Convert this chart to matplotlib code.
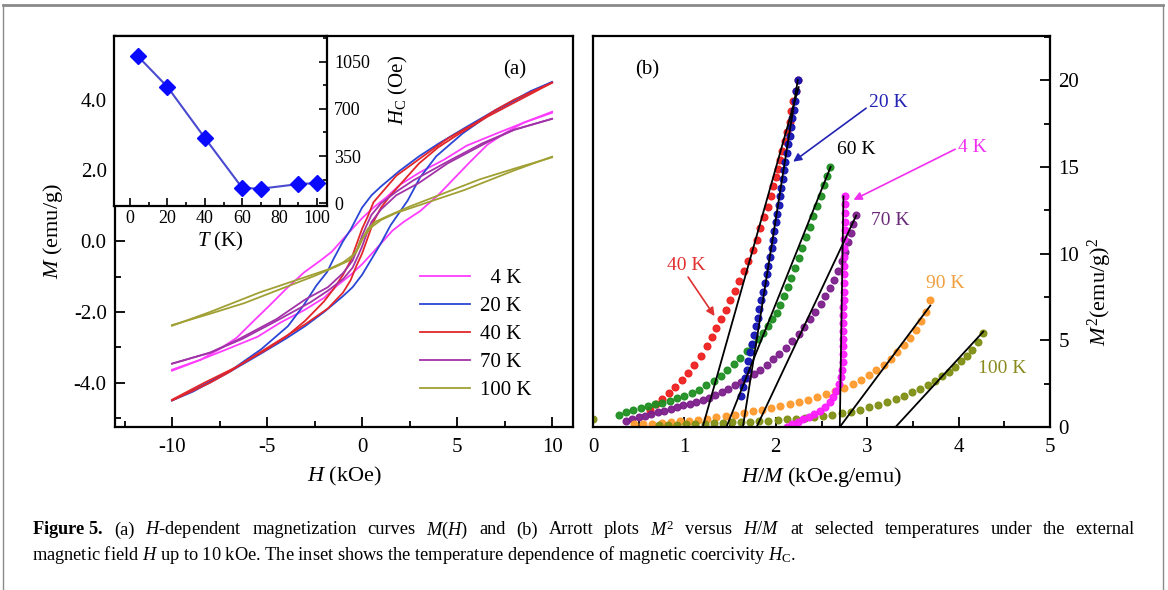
import matplotlib
matplotlib.use("Agg")
import matplotlib.pyplot as plt
from matplotlib.lines import Line2D
from matplotlib.ticker import MultipleLocator, FormatStrFormatter

plt.rcParams["font.family"] = ["Liberation Serif", "DejaVu Serif"]
plt.rcParams["mathtext.fontset"] = "custom"
plt.rcParams["mathtext.rm"] = "Liberation Serif"
plt.rcParams["mathtext.it"] = "Liberation Serif:italic"
plt.rcParams["mathtext.bf"] = "Liberation Serif:bold"
plt.rcParams["axes.unicode_minus"] = False

# ---- (a) M(H) loops: each loop as lower (ascending) and upper (descending) branch ----
H_4K_lo = [-10, -8.5, -7.1, -5.5, -4.3, -3.05, -2.0, -1.3, -0.6, 0, 0.6, 1.1, 1.6, 2.2, 3.05, 4.0, 4.8, 5.7, 6.6, 7.5, 8.5, 10]
M_4K_lo = [-3.63, -3.35, -3.05, -2.7, -2.3, -1.95, -1.6, -1.25, -0.95, -0.65, -0.3, 0.0, 0.3, 0.55, 0.85, 1.3, 1.75, 2.25, 2.73, 3.05, 3.35, 3.66]
H_4K_up = [-10, -8.5, -7.5, -6.6, -5.7, -4.8, -4.0, -3.05, -2.2, -1.6, -1.1, -0.6, 0, 0.6, 1.3, 2.0, 3.05, 4.3, 5.5, 7.1, 8.5, 10]
M_4K_up = [-3.66, -3.35, -3.05, -2.73, -2.25, -1.78, -1.35, -0.88, -0.55, -0.3, 0.0, 0.3, 0.65, 0.95, 1.25, 1.6, 1.95, 2.3, 2.7, 3.05, 3.35, 3.63]

H_20K_lo = [-10, -8.9, -7, -5.4, -4, -3, -2, -1, -0.5, 0, 0.5, 1, 1.5, 2.4, 3.05, 3.9, 5.3, 6.9, 8.3, 10]
M_20K_lo = [-4.5, -4.25, -3.7, -3.2, -2.75, -2.4, -2.0, -1.55, -1.3, -0.95, -0.5, -0.05, 0.45, 1.15, 1.8, 2.4, 3.05, 3.65, 4.05, 4.5]
H_20K_up = [-10, -8.3, -6.9, -5.3, -3.9, -3.1, -2.4, -1.84, -1.5, -1, -0.6, 0, 0.5, 1, 2, 3, 4, 5.4, 7, 8.9, 10]
M_20K_up = [-4.5, -4.05, -3.65, -3.05, -2.4, -1.83, -1.25, -0.87, -0.5, 0.0, 0.33, 0.95, 1.3, 1.55, 2.0, 2.4, 2.75, 3.2, 3.7, 4.25, 4.5]

H_40K_lo = [-10, -8, -7, -6, -4.5, -3, -1.8, -1, -0.6, -0.3, 0, 0.3, 0.6, 1, 1.5, 2, 3, 4, 5, 6.6, 8.3, 10]
M_40K_lo = [-4.5, -4.0, -3.7, -3.35, -2.85, -2.35, -1.9, -1.45, -1.1, -0.7, -0.35, 0.1, 0.55, 0.95, 1.3, 1.6, 2.2, 2.65, 3.0, 3.52, 4.0, 4.48]
H_40K_up = [-10, -8.3, -6.6, -5, -4, -3, -2, -1.5, -1, -0.6, -0.3, 0, 0.3, 0.6, 1, 1.8, 3, 4.5, 6, 7, 8, 10]
M_40K_up = [-4.48, -4.0, -3.55, -3.05, -2.7, -2.25, -1.7, -1.35, -0.95, -0.55, -0.1, 0.35, 0.7, 1.1, 1.35, 1.85, 2.32, 2.9, 3.35, 3.7, 4.0, 4.48]

H_70K_lo = [-10, -8, -6.3, -4.5, -2.7, -1.8, -1, -0.5, -0.2, 0, 0.2, 0.5, 1, 1.8, 3, 4.5, 6.6, 8, 10]
M_70K_lo = [-3.46, -3.15, -2.76, -2.25, -1.72, -1.4, -1.07, -0.75, -0.4, -0.15, 0.15, 0.55, 0.9, 1.3, 1.65, 2.2, 2.8, 3.15, 3.46]
H_70K_up = [-10, -8, -6.6, -4.5, -3, -1.8, -1, -0.5, -0.2, 0, 0.2, 0.5, 1, 1.8, 2.7, 4.5, 6.3, 8, 10]
M_70K_up = [-3.46, -3.15, -2.8, -2.2, -1.65, -1.3, -0.9, -0.55, -0.15, 0.15, 0.4, 0.75, 1.07, 1.4, 1.72, 2.25, 2.76, 3.15, 3.46]

H_100K_lo = [-10, -8, -5.4, -3.3, -1.8, -1, -0.5, -0.2, 0.1, 0.3, 0.7, 1.3, 2.5, 3.75, 5, 6.2, 8, 10]
M_100K_lo = [-2.39, -2.0, -1.45, -1.07, -0.8, -0.6, -0.4, -0.2, 0.15, 0.35, 0.55, 0.7, 0.98, 1.24, 1.5, 1.75, 2.05, 2.37]
H_100K_up = [-10, -8, -6.2, -5, -3.75, -2.5, -1.3, -0.7, -0.3, -0.1, 0.2, 0.5, 1, 1.8, 3.3, 5.4, 8, 10]
M_100K_up = [-2.37, -2.05, -1.75, -1.5, -1.24, -0.98, -0.7, -0.55, -0.3, 0.0, 0.2, 0.4, 0.6, 0.8, 1.07, 1.45, 2.0, 2.39]

LOOP_LABELS = ["  4 K", "20 K", "40 K", "70 K", "100 K"]
LOOP_COLORS = ["#ff3cff", "#2a46d6", "#e2262a", "#a232a8", "#a0a034"]

# ---- inset: coercivity vs T ----
T_inset = [4, 20, 40, 60, 70, 90, 100]
Hc_inset = [1095, 864, 484, 112, 107, 141, 149]

# ---- (b) Arrott plots: (H/M, M^2) dots and linear fits ----
x_4K = [2.12, 2.18, 2.24, 2.30, 2.36, 2.42, 2.48, 2.54, 2.59, 2.63, 2.66, 2.69, 2.71, 2.72, 2.73, 2.73, 2.74, 2.74,
        2.74, 2.74, 2.74, 2.74, 2.75, 2.75, 2.75, 2.75, 2.75, 2.75, 2.75, 2.75, 2.76, 2.76, 2.76, 2.76, 2.76]
y_4K = [0.0, 0.15, 0.3, 0.45, 0.6, 0.75, 0.95, 1.15, 1.45, 1.75, 2.1, 2.5, 2.9, 3.3, 3.75, 4.2, 4.65, 5.1,
        5.55, 6.0, 6.45, 6.9, 7.35, 7.8, 8.3, 8.8, 9.3, 9.8, 10.3, 10.85, 11.35, 11.85, 12.35, 12.85, 13.3]
x_20K = [1.62, 1.64, 1.66, 1.68, 1.70, 1.72, 1.74, 1.76, 1.78, 1.80, 1.82, 1.84, 1.86, 1.88, 1.90, 1.92, 1.94, 1.955, 1.97,
         1.985, 2.0, 2.015, 2.03, 2.045, 2.06, 2.075, 2.09, 2.105, 2.12, 2.135, 2.15, 2.165, 2.18, 2.195, 2.21, 2.225, 2.24]
y_20K = [1.8, 2.3, 2.8, 3.3, 3.8, 4.3, 4.8, 5.3, 5.8, 6.3, 6.8, 7.3, 7.8, 8.3, 8.8, 9.3, 9.8, 10.3, 10.8,
         11.3, 11.8, 12.3, 12.8, 13.3, 13.8, 14.3, 14.8, 15.3, 15.8, 16.3, 16.8, 17.3, 17.8, 18.3, 18.8, 19.4, 20.0]
x_40K = [0.62, 0.69, 0.76, 0.83, 0.90, 0.97, 1.04, 1.11, 1.18, 1.25, 1.30, 1.35, 1.40, 1.45, 1.50, 1.55, 1.60, 1.65, 1.70,
         1.75, 1.79, 1.83, 1.87, 1.91, 1.95, 1.97, 2.00, 2.02, 2.05, 2.07, 2.10, 2.12, 2.15, 2.17, 2.19, 2.22, 2.24]
y_40K = [1.0, 1.3, 1.6, 1.95, 2.3, 2.7, 3.1, 3.6, 4.1, 4.7, 5.2, 5.7, 6.2, 6.75, 7.3, 7.85, 8.4, 9.0, 9.6,
         10.2, 10.8, 11.45, 12.1, 12.7, 13.3, 13.9, 14.4, 14.9, 15.4, 15.9, 16.5, 17.0, 17.6, 18.2, 18.8, 19.4, 20.0]
x_60K = [0.28, 0.36, 0.44, 0.52, 0.60, 0.68, 0.76, 0.84, 0.92, 1.0, 1.08, 1.16, 1.24, 1.32, 1.40, 1.47, 1.54, 1.61, 1.68, 1.74,
         1.80, 1.86, 1.91, 1.96, 2.01, 2.05, 2.09, 2.13, 2.17, 2.21, 2.25, 2.29, 2.33, 2.37, 2.41, 2.45, 2.49, 2.53, 2.56, 2.59]
y_60K = [0.7, 0.85, 1.0, 1.1, 1.2, 1.3, 1.4, 1.5, 1.65, 1.8, 1.95, 2.15, 2.4, 2.65, 2.95, 3.3, 3.65, 4.0, 4.4, 4.75,
         5.1, 5.45, 5.8, 6.2, 6.6, 7.05, 7.55, 8.05, 8.6, 9.15, 9.75, 10.35, 10.95, 11.55, 12.15, 12.75, 13.35, 13.95, 14.5, 15.0]
x_70K = [0.36, 0.43, 0.50, 0.57, 0.64, 0.71, 0.78, 0.85, 0.92, 0.99, 1.06, 1.13, 1.20, 1.27, 1.34, 1.41, 1.48, 1.55, 1.62, 1.69, 1.76,
         1.83, 1.90, 1.97, 2.04, 2.11, 2.18, 2.25, 2.31, 2.37, 2.43, 2.49, 2.54, 2.59, 2.64, 2.68, 2.72, 2.76, 2.79, 2.82, 2.85, 2.88]
y_70K = [0.35, 0.45, 0.55, 0.65, 0.75, 0.85, 0.95, 1.05, 1.15, 1.25, 1.35, 1.45, 1.55, 1.7, 1.85, 2.0, 2.2, 2.4, 2.6, 2.8, 3.05,
         3.3, 3.6, 3.9, 4.2, 4.55, 4.95, 5.35, 5.75, 6.2, 6.65, 7.1, 7.55, 8.0, 8.5, 9.0, 9.55, 10.1, 10.65, 11.2, 11.7, 12.2]
x_90K = [0.45, 0.55, 0.65, 0.75, 0.85, 0.95, 1.05, 1.15, 1.25, 1.35, 1.45, 1.55, 1.65, 1.75, 1.85, 1.95, 2.05, 2.15, 2.25,
         2.35, 2.45, 2.55, 2.65, 2.75, 2.84, 2.93, 3.02, 3.10, 3.18, 3.26, 3.33, 3.40, 3.47, 3.53, 3.59, 3.64, 3.69]
y_90K = [0.15, 0.17, 0.2, 0.24, 0.28, 0.32, 0.36, 0.42, 0.48, 0.55, 0.62, 0.7, 0.8, 0.9, 1.0, 1.1, 1.2, 1.32, 1.45,
         1.58, 1.72, 1.88, 2.05, 2.25, 2.48, 2.72, 2.98, 3.28, 3.6, 3.95, 4.32, 4.72, 5.15, 5.6, 6.1, 6.65, 7.3]
x_100K = [0.0, 0.72, 0.82, 0.92, 1.02, 1.12, 1.22, 1.32, 1.42, 1.52, 1.62, 1.72, 1.82, 1.92, 2.02, 2.12, 2.22, 2.32, 2.42, 2.52, 2.62,
          2.72, 2.82, 2.92, 3.02, 3.12, 3.22, 3.31, 3.40, 3.49, 3.58, 3.66, 3.74, 3.82, 3.89, 3.96, 4.03, 4.09, 4.15, 4.21, 4.27]
y_100K = [0.45, 0.1, 0.12, 0.14, 0.16, 0.18, 0.2, 0.22, 0.24, 0.26, 0.28, 0.31, 0.34, 0.37, 0.4, 0.44, 0.48, 0.52, 0.57, 0.63, 0.7,
          0.78, 0.88, 1.0, 1.13, 1.28, 1.45, 1.62, 1.8, 2.0, 2.22, 2.44, 2.68, 2.94, 3.2, 3.48, 3.78, 4.1, 4.45, 4.9, 5.4]

# fit lines: (x0, x1), (y0, y1)
fit_4K = ([2.70, 2.74], [0, 13.3])
fit_20K = ([1.64, 2.24], [0, 20.0])
fit_40K = ([1.20, 2.25], [0, 19.6])
fit_60K = ([1.46, 2.60], [0, 15.0])
fit_70K = ([1.79, 2.88], [0, 12.2])
fit_90K = ([2.70, 3.69], [0, 7.0])
fit_100K = ([3.31, 4.27], [0, 5.5])

CAPTION_1 = [r"$\mathbf{Figure\ 5.}$", "(a)", "$H$-dependent", "magnetization", "curves", "$M$($H$)", "and", "(b)",
             "Arrott", "plots", "$M^2$", "versus", "$H/M$", "at", "selected", "temperatures", "under", "the", "external"]
CAPTION_2 = (r"magnetic field $H$ up to 10 kOe. The inset shows the temperature dependence "
             r"of magnetic coercivity $H_\mathrm{C}$.")

W, Hpx = 1168, 590
fig = plt.figure(figsize=(W / 100, Hpx / 100), dpi=100)

# ================= panel (a) =================
ax = fig.add_axes([115 / W, 1 - 427 / Hpx, 458 / W, 391 / Hpx])
loops = [(H_4K_lo, M_4K_lo, H_4K_up, M_4K_up),
         (H_20K_lo, M_20K_lo, H_20K_up, M_20K_up),
         (H_40K_lo, M_40K_lo, H_40K_up, M_40K_up),
         (H_70K_lo, M_70K_lo, H_70K_up, M_70K_up),
         (H_100K_lo, M_100K_lo, H_100K_up, M_100K_up)]
for (hl, ml, hu, mu), lab, col in zip(loops, LOOP_LABELS, LOOP_COLORS):
    ax.plot(hl, ml, color=col, lw=1.3, label=lab)
    ax.plot(hu, mu, color=col, lw=1.3)
ax.set_xlim(-13.0, 11.1)
ax.set_ylim(-5.25, 5.8)
ax.xaxis.set_major_locator(MultipleLocator(5))
ax.xaxis.set_minor_locator(MultipleLocator(2.5))
ax.yaxis.set_major_locator(MultipleLocator(2))
ax.yaxis.set_minor_locator(MultipleLocator(1))
ax.yaxis.set_major_formatter(FormatStrFormatter("%.1f"))
ax.tick_params(which="both", direction="in", top=False, right=False, width=1.3, labelsize=15)
ax.tick_params(which="major", length=7, pad=8)
ax.tick_params(which="minor", length=4)
ax.tick_params(axis="y", pad=6)
for s in ax.spines.values():
    s.set_linewidth(1.6)
ax.set_xlabel("$H$ (kOe)", fontsize=16, labelpad=6)
ax.set_ylabel("$M$ (emu/g)", fontsize=16, labelpad=6)
ax.text(8.05, 4.85, "(a)", fontsize=15, ha="center", va="center")
ax.legend(loc="upper left", bbox_to_anchor=(0.665, 0.405), frameon=False, fontsize=15,
          handlelength=2.4, handletextpad=0.5, labelspacing=0.4, borderpad=0, borderaxespad=0)

# inset
axi = fig.add_axes([114 / W, 1 - 206 / Hpx, 213 / W, 170 / Hpx])
axi.plot(T_inset, Hc_inset, color="#4a4ad0", lw=1.5, marker="D", markersize=8,
         markerfacecolor="#0a0aff", markeredgecolor="#0a0aff")
axi.set_xlim(-8.6, 105.3)
axi.set_ylim(-22, 1243)
axi.xaxis.set_major_locator(MultipleLocator(20))
axi.xaxis.set_minor_locator(MultipleLocator(10))
axi.yaxis.set_major_locator(MultipleLocator(350))
axi.yaxis.set_minor_locator(MultipleLocator(175))
axi.tick_params(which="both", direction="in", left=False, labelleft=False, right=True, labelright=True,
                top=False, width=1.2, labelsize=13)
axi.tick_params(which="major", length=6)
axi.tick_params(which="minor", length=3)
axi.tick_params(axis="x", pad=3)
axi.tick_params(axis="y", pad=5)
for s in axi.spines.values():
    s.set_linewidth(1.6)
axi.set_xlabel("$T$ (K)", fontsize=15, labelpad=2)
fig.text(398 / W, 1 - 90 / Hpx, r"$H_\mathrm{C}$ (Oe)", rotation=90, fontsize=15, ha="center", va="center")

# ================= panel (b) =================
bx = fig.add_axes([593 / W, 1 - 427 / Hpx, 457 / W, 391 / Hpx])
arrott = [(x_40K, y_40K, "#ee2020", fit_40K),
          (x_60K, y_60K, "#1f8f23", fit_60K),
          (x_70K, y_70K, "#7d1f8c", fit_70K),
          (x_90K, y_90K, "#ff9a2e", fit_90K),
          (x_100K, y_100K, "#7f8f14", fit_100K),
          (x_4K, y_4K, "#ff1cff", fit_4K),
          (x_20K, y_20K, "#1414b4", fit_20K)]
for xs, ys, col, fit in arrott:
    bx.plot(xs, ys, linestyle="none", marker="o", markersize=4.8, color=col,
            markeredgecolor=col, alpha=0.95, zorder=2)
for xs, ys, col, fit in arrott:
    bx.plot(fit[0], fit[1], color="black", lw=1.3, zorder=3)
bx.set_xlim(0, 5)
bx.set_ylim(0, 22.55)
bx.xaxis.set_major_locator(MultipleLocator(1))
bx.xaxis.set_minor_locator(MultipleLocator(0.5))
bx.yaxis.set_major_locator(MultipleLocator(5))
bx.yaxis.set_minor_locator(MultipleLocator(2.5))
bx.tick_params(which="both", direction="in", left=False, labelleft=False, right=True, labelright=True,
               top=False, width=1.3, labelsize=15)
bx.tick_params(which="major", length=7, pad=8)
bx.tick_params(which="minor", length=4)
bx.tick_params(axis="y", pad=6)
for s in bx.spines.values():
    s.set_linewidth(1.6)
bx.set_xlabel("$H/M$ (kOe.g/emu)", fontsize=16, labelpad=6)
fig.text(1100 / W, 1 - 292 / Hpx, "$M^2$(emu/g)$^2$", rotation=90, fontsize=16, ha="center", va="center")
bx.text(0.59, 20.6, "(b)", fontsize=15, ha="center", va="center")

arrow = dict(arrowstyle="-|>", lw=1.2, mutation_scale=12, shrinkA=0, shrinkB=0)
bx.annotate("20 K", xy=(2.19, 15.3), xytext=(3.23, 18.7), fontsize=14, color="#2424b4",
            ha="center", va="center", arrowprops=dict(arrow, color="#2424b4", relpos=(0, 0.3)))
bx.text(2.88, 16.0, "60 K", fontsize=14, color="black", ha="center", va="center")
bx.annotate("4 K", xy=(2.85, 13.1), xytext=(4.15, 16.1), fontsize=14, color="#f030f0",
            ha="center", va="center", arrowprops=dict(arrow, color="#f030f0", relpos=(0, 0.5)))
bx.text(3.25, 11.9, "70 K", fontsize=14, color="#6a2a7a", ha="center", va="center")
bx.text(3.85, 8.3, "90 K", fontsize=14, color="#f0a040", ha="center", va="center")
bx.text(4.48, 3.35, "100 K", fontsize=14, color="#8a8a20", ha="center", va="center")
bx.annotate("40 K", xy=(1.33, 6.4), xytext=(1.02, 9.3), fontsize=14, color="#e03030",
            ha="center", va="center", arrowprops=dict(arrow, color="#e03030", relpos=(0.5, 0)))

# ================= caption (first line justified) and page frame =================
cap_size = 13.2
left_px, right_px = 32, 1135
renderer = fig.canvas.get_renderer()
words = [fig.text(0, 1 - 530 / Hpx, w, fontsize=cap_size, ha="left", va="center") for w in CAPTION_1]
widths = [t.get_window_extent(renderer=renderer).width for t in words]
gap = (right_px - left_px - sum(widths)) / (len(words) - 1)
xpos = left_px
for t, w in zip(words, widths):
    t.set_x(xpos / W)
    xpos += w + gap
fig.text(left_px / W, 1 - 555 / Hpx, CAPTION_2, fontsize=cap_size, ha="left", va="center")

for xs, ys, lw in [([3 / W, 3 / W], [0, 1 - 5 / Hpx], 1.0),
                   ([1163 / W, 1163 / W], [0, 1 - 5 / Hpx], 1.0),
                   ([3 / W, 1163 / W], [1 - 5 / Hpx, 1 - 5 / Hpx], 2.0)]:
    fig.add_artist(Line2D(xs, ys, transform=fig.transFigure, color="#8a8a8a", lw=lw))

fig.savefig("out.png", dpi=100)
